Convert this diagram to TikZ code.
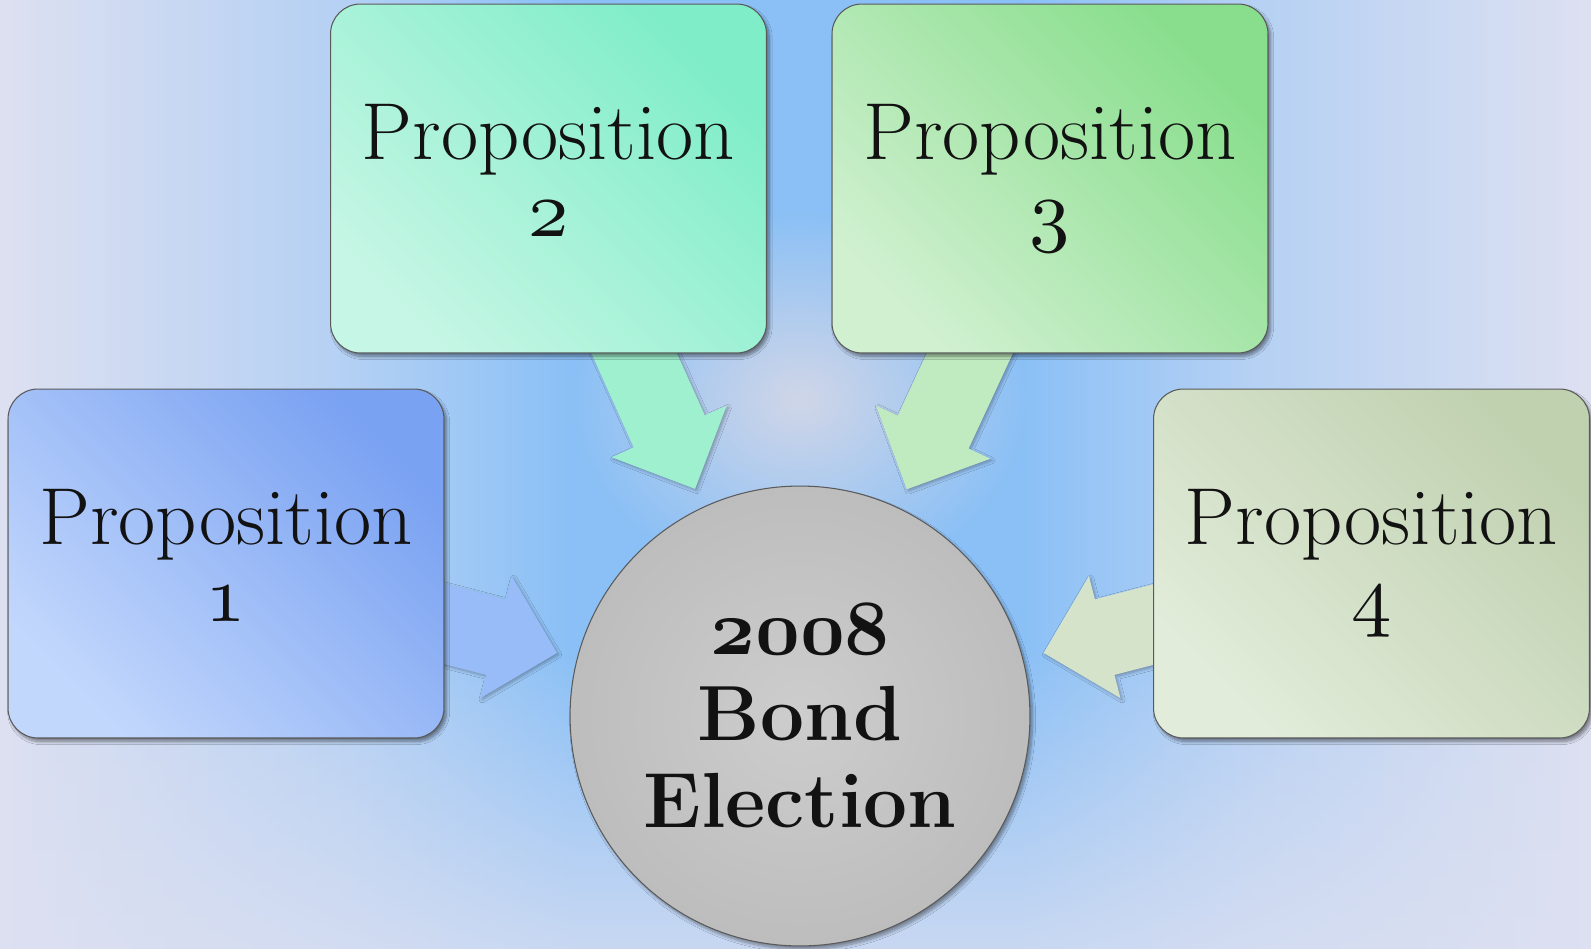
\documentclass[tikz,border=0pt]{standalone}
\usetikzlibrary{shadows.blur,fadings}
\DeclareFontFamily{OML}{osncmm}{\skewchar\font127 }
\DeclareFontShape{OML}{osncmm}{m}{it}{<->cmmi10}{}
\DeclareFontShape{OML}{osncmm}{b}{it}{<->cmmib10}{}
\newcommand\osn[1]{{\usefont{OML}{osncmm}{m}{it}#1}}
\newcommand\osnb[1]{{\usefont{OML}{osncmm}{b}{it}#1}}
\newcommand\dph{\vphantom{\osn{3}}}
\def\pxu{0.5690551pt}
\definecolor{bgedge}{HTML}{DDE0F1}
\definecolor{bgblue}{HTML}{8AC0F6}
\definecolor{bgglow}{HTML}{D0D6E8}
\definecolor{bordergray}{HTML}{5A5A5A}
\definecolor{b1dark}{HTML}{7AA2F2}\definecolor{b1light}{HTML}{C2D7FC}
\definecolor{b2dark}{HTML}{7FEDC8}\definecolor{b2light}{HTML}{C6F6E5}
\definecolor{b3dark}{HTML}{88DE8C}\definecolor{b3light}{HTML}{D0F0D0}
\definecolor{b4dark}{HTML}{C0D1B0}\definecolor{b4light}{HTML}{E2ECDA}
\definecolor{a1col}{HTML}{98BCF8}
\definecolor{a2col}{HTML}{9EF0CF}
\definecolor{a3col}{HTML}{C0EBC0}
\definecolor{a4col}{HTML}{D6E3CB}
\definecolor{circin}{HTML}{CDCDCD}
\definecolor{circout}{HTML}{BDBDBD}
\pgfdeclarehorizontalshading{bgband}{100bp}{color(0bp)=(bgedge); color(25bp)=(bgedge); color(36bp)=(bgblue!50!bgedge); color(43bp)=(bgblue); color(57bp)=(bgblue); color(64bp)=(bgblue!50!bgedge); color(75bp)=(bgedge); color(100bp)=(bgedge)}
\tikzfading[name=softglow, inner color=transparent!0, outer color=transparent!100]
\tikzfading[name=fadebottom, top color=transparent!100, bottom color=transparent!25]
\tikzset{
  propbox/.style={rectangle, rounded corners=17pt, draw=bordergray, line width=0.6pt,
    minimum width=436*\pxu, minimum height=349*\pxu, align=center,
    font=\fontsize{46}{44}\selectfont, text=black!93,
    blur shadow={shadow blur steps=8, shadow xshift=1.5pt, shadow yshift=-2pt, shadow opacity=45}},
  boxfill/.style 2 args={top color=#1, bottom color=#2, shading angle=-45},
  centercircle/.style={circle, draw=bordergray, line width=0.6pt,
    minimum size=460*\pxu, inner sep=0pt, align=center,
    inner color=circin, outer color=circout,
    font=\fontsize{44.5}{49}\selectfont\bfseries, text=black!93,
    blur shadow={shadow blur steps=8, shadow xshift=1.5pt, shadow yshift=-2pt, shadow opacity=40}},
  blockarrowstyle/.style={blur shadow={shadow blur steps=5, shadow xshift=1pt, shadow yshift=-1pt, shadow opacity=30}}
}
\newcommand\blockarrow[4]{%
  \fill[#4, blockarrowstyle, shift={(#1)}, rotate=#2]
    (-25,-39) -- (#3-63,-39) -- (#3-63,-63) -- (#3,0) -- (#3-63,63) -- (#3-63,39) -- (-25,39) -- cycle;}
\begin{document}
\begin{tikzpicture}[x=0.02cm,y=-0.02cm]
\useasboundingbox (0,0) rectangle (1591,949);
% background
\fill[shading=bgband] (0,0) rectangle (1591,949);
\fill[bgglow, path fading=softglow] (800,400) ellipse [x radius=230, y radius=190];
\fill[bgedge, path fading=fadebottom] (0,650) rectangle (1591,949);
% arrow tails
\coordinate (t1) at (445,624);
\coordinate (t2) at (634,353);
\coordinate (t3) at (970,353);
\coordinate (t4) at (1155.5,624);
\blockarrow{t1}{-14.5}{115.7}{a1col}
\blockarrow{t2}{-65.8}{149}{a2col}
\blockarrow{t3}{-114.9}{150.3}{a3col}
\blockarrow{t4}{-165.5}{115.5}{a4col}
% boxes
\node[propbox, boxfill={b1dark}{b1light}] (p1) at (226,563.5) {Proposition\\\osn{1}\dph};
\node[propbox, boxfill={b2dark}{b2light}] (p2) at (548.5,178.5) {Proposition\\\osn{2}\dph};
\node[propbox, boxfill={b3dark}{b3light}] (p3) at (1050,178.5) {Proposition\\\osn{3}\dph};
\node[propbox, boxfill={b4dark}{b4light}] (p4) at (1371.5,563.5) {Proposition\\\osn{4}\dph};
\node[centercircle] (c) at (800,716) {\osnb{2008}\\Bond\\Election};
\end{tikzpicture}
\end{document}
